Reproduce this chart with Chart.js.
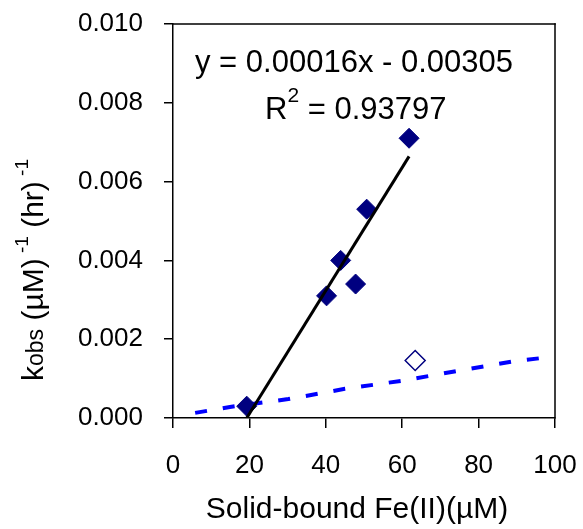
<!DOCTYPE html>
<html>
<head>
<meta charset="utf-8">
<script src="https://cdn.jsdelivr.net/npm/chart.js@4/dist/chart.umd.min.js"></script>
<style>html,body{margin:0;padding:0;background:#fff}</style>
</head>
<body>
<canvas id="c" width="583" height="529"></canvas>
<script>
const FONT = "'Liberation Sans', Arial, sans-serif";

// measured points (solid diamonds)
const solidX = [19.3, 40.2, 43.9, 47.8, 50.7, 61.8];
const solidY = [0.0003, 0.0031, 0.0040, 0.0034, 0.0053, 0.0071];
// open diamond
const openX = [63.4];
const openY = [0.00146];
// linear fit through solid points
const fitX = [19.3, 61.8];
const fitY = [0.0, 0.00664];
// blue dashed curve
const dashX = [5.8, 14.9, 30.2, 45.0, 60.3, 74.7, 90.0, 99.1];
const dashY = [0.00013, 0.00028, 0.00048, 0.00074, 0.00095, 0.00120, 0.00145, 0.00155];

const eqText = 'y = 0.00016x - 0.00305';
const xTitle = 'Solid-bound Fe(II)(\u00b5M)';

const pts = (xs, ys) => xs.map((x, i) => ({ x, y: ys[i] }));

function drawRuns(ctx, runs, x, y) {
  // draws text runs left-to-right from x, returns end x
  runs.forEach(r => {
    ctx.font = `${r.size}px ${FONT}`;
    ctx.fillText(r.text, x, y - (r.rise || 0));
    x += ctx.measureText(r.text).width;
  });
  return x;
}
function runsWidth(ctx, runs) {
  return runs.reduce((w, r) => {
    ctx.font = `${r.size}px ${FONT}`;
    return w + ctx.measureText(r.text).width;
  }, 0);
}

const decorations = {
  id: 'decorations',
  afterDraw(chart) {
    const { ctx, chartArea: a } = chart;
    ctx.save();
    ctx.setLineDash([]);
    ctx.globalAlpha = 1;
    ctx.fillStyle = '#000';
    // top and right edges of the plot box, as filled strips
    ctx.fillRect(a.left - 0.75, a.top - 0.75, a.right - a.left + 1.5, 1.5);
    ctx.fillRect(a.right - 0.75, a.top - 0.75, 1.5, a.bottom - a.top + 1.5);

    ctx.textBaseline = 'alphabetic';
    ctx.textAlign = 'center';
    ctx.font = `31px ${FONT}`;
    ctx.fillText(eqText, 354, 72);

    ctx.textAlign = 'left';
    drawRuns(ctx, [
      { text: 'R', size: 31 },
      { text: '2', size: 21, rise: 17 },
      { text: ' = 0.93797', size: 31 }
    ], 265, 119);

    ctx.textAlign = 'center';
    ctx.font = `30px ${FONT}`;
    ctx.fillText(xTitle, 357, 518);

    // y axis title, rotated
    const yRuns = [
      { text: 'k', size: 30 },
      { text: 'obs', size: 23 },
      { text: ' (\u00b5M)', size: 30 },
      { text: ' -1', size: 19, rise: 15 },
      { text: ' (hr)', size: 30 },
      { text: ' -1', size: 19, rise: 15 }
    ];
    ctx.textAlign = 'left';
    ctx.translate(43, 270);
    ctx.rotate(-Math.PI / 2);
    drawRuns(ctx, yRuns, -runsWidth(ctx, yRuns) / 2, 0);
    ctx.restore();
  }
};

const tickFont = { family: FONT, size: 26 };

new Chart(document.getElementById('c'), {
  type: 'scatter',
  data: {
    datasets: [
      {
        data: pts(fitX, fitY),
        showLine: true,
        borderColor: '#000',
        borderWidth: 3,
        pointRadius: 0,
        order: 0
      },
      {
        data: pts(solidX, solidY),
        pointStyle: 'rectRot',
        pointRadius: 10,
        backgroundColor: '#000080',
        borderColor: '#000080',
        borderWidth: 1,
        order: 1
      },
      {
        data: pts(openX, openY),
        pointStyle: 'rectRot',
        pointRadius: 10,
        backgroundColor: '#fff',
        borderColor: '#000080',
        borderWidth: 1.5,
        order: 1
      },
      {
        data: pts(dashX, dashY),
        showLine: true,
        borderColor: '#0000ff',
        borderWidth: 4,
        borderDash: [12, 16],
        pointRadius: 0,
        order: 2
      }
    ]
  },
  options: {
    responsive: false,
    animation: false,
    layout: { padding: { top: 24, right: 28, left: 0, bottom: 0 } },
    plugins: { legend: { display: false }, tooltip: { enabled: false } },
    scales: {
      x: {
        type: 'linear',
        min: 0,
        max: 100,
        // fixed axis size, no label overhang so the plot box lands where the reference has it
        afterFit: s => { s.height = 111; s.paddingLeft = 0; s.paddingRight = 0; },
        ticks: { stepSize: 20, color: '#000', font: tickFont, padding: 22, maxRotation: 0 },
        grid: { drawOnChartArea: false, tickLength: 10, color: '#000', lineWidth: 1.5 },
        border: { color: '#000', width: 1.5 }
      },
      y: {
        min: 0,
        max: 0.01,
        afterFit: s => { s.width = 173; s.paddingTop = 0; s.paddingBottom = 0; },
        ticks: { stepSize: 0.002, color: '#000', font: tickFont, padding: 21, callback: v => v.toFixed(3) },
        grid: { drawOnChartArea: false, tickLength: 9, color: '#000', lineWidth: 1.5 },
        border: { color: '#000', width: 1.5 }
      }
    }
  },
  plugins: [decorations]
});
</script>
</body>
</html>
